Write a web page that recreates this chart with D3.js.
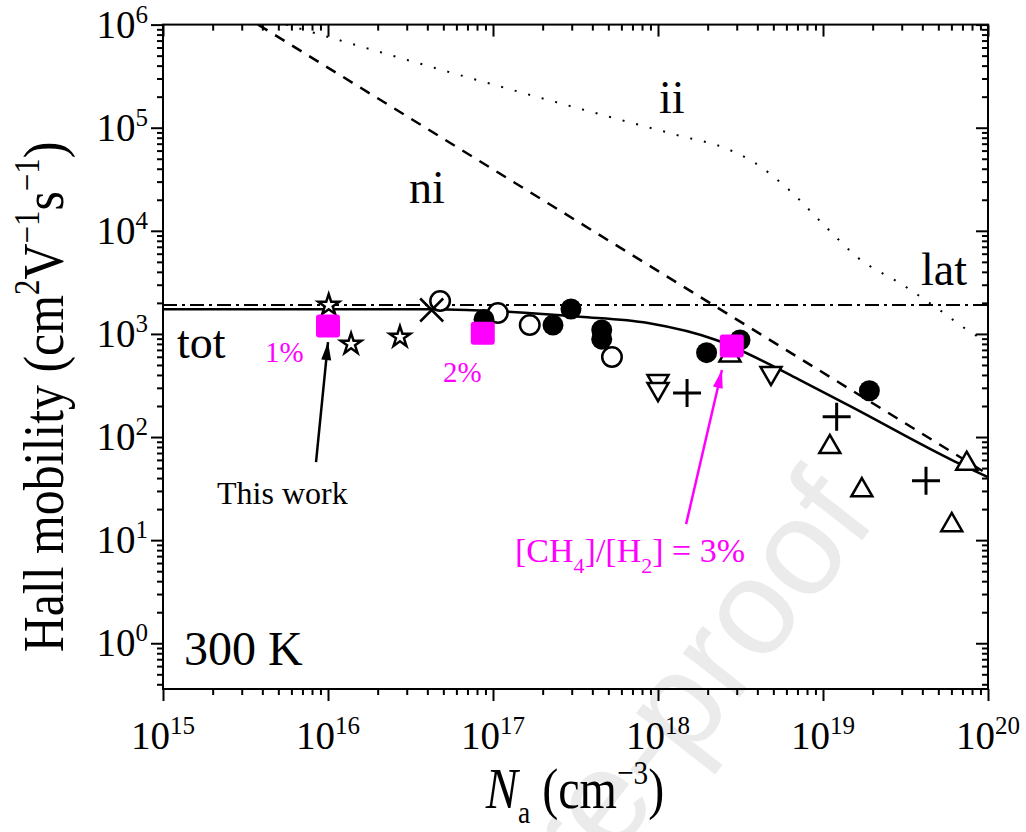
<!DOCTYPE html>
<html lang="en">
<head>
<meta charset="utf-8">
<style>

body {
  margin: 0;
  background: #fff;
}

svg {
  display: block;
  font-family: "Liberation Serif", "Times New Roman", serif;
}

.axis line {
  stroke: #000;
  stroke-width: 2;
}

.open {
  fill: #fff;
  stroke: #000;
  stroke-width: 2.5;
}

</style>
</head>
<body>
<script src="https://d3js.org/d3.v7.min.js"></script>
<script>

var width = 1026,
    height = 832;

// axis ranges and major ticks
var xDomain = [1e15, 1e20];
var yDomain = [0.36, 1e6];
var xExponents = [15, 16, 17, 18, 19, 20];
var yExponents = [0, 1, 2, 3, 4, 5, 6];

// model curves, [Na, mobility]
var latCurve = [[1e15, 1905], [1e20, 1905]];
var niCurve = [[3.77e15, 1e6], [1e20, 43.5]];
var iiCurve = [[5.56e15, 1e6], [1.22e16, 6.93e5], [5.41e16, 3.47e5], [5.12e17, 1.27e5],
               [1.30e18, 8.49e4], [2.73e18, 6.07e4], [3.87e18, 4.55e4], [6.05e18, 2.60e4],
               [1.06e19, 1.06e4], [1.61e19, 5570], [3.05e19, 2980], [4.91e19, 1780],
               [8.0e19, 1020], [1e20, 836]];
var totCurve = [[1e15, 1738], [4.15e16, 1738], [3.37e17, 1469], [8.69e17, 1276],
                [2.25e18, 873], [4.58e18, 522], [7.26e18, 357], [1.50e19, 195],
                [6.22e19, 58.5], [1e20, 40.9]];

// literature data
var stars = [[1.01e16, 1905], [1.38e16, 798], [2.73e16, 933]];
var crosses = [[4.25e16, 1706]];
var openCircles = [[4.78e16, 2084], [1.07e17, 1596], [1.67e17, 1219], [5.26e17, 597]];
var filledCircles = [[8.82e16, 1380], [2.31e17, 1219], [2.97e17, 1746], [4.56e17, 1092],
                     [4.56e17, 890], [1.97e18, 658], [3.14e18, 873], [1.91e19, 281]];
var downTriangles = [[1.0e18, 349], [1.0e18, 292], [4.84e18, 418]];
var upTriangles = [[2.73e18, 620], [1.10e19, 80], [1.72e19, 30.5], [7.43e19, 55], [6.03e19, 14]];
var pluses = [[1.50e18, 267], [1.21e19, 157], [4.21e19, 37.7]];

// this work
var thisWork = [[1.0e16, 1193], [8.67e16, 1013], [2.80e18, 763]];
var thisWorkArrow = [[8.46e15, 57.1], [1.0e16, 834]];
var methaneArrow = [[1.48e18, 14.3], [2.44e18, 447]];

var x = d3.scaleLog()
    .domain(xDomain)
    .range([163, 988]);

var y = d3.scaleLog()
    .domain(yDomain)
    .range([689, 24.6]);

var svg = d3.select("body").append("svg")
    .attr("width", width)
    .attr("height", height);

var defs = svg.append("defs");

defs.append("clipPath")
    .attr("id", "plotclip")
  .append("rect")
    .attr("x", 163)
    .attr("y", 24.6)
    .attr("width", 825)
    .attr("height", 689 - 24.6);

[["head-black", "#000"], ["head-magenta", "#ff00ff"]].forEach(function(m) {
    defs.append("marker")
        .attr("id", m[0])
        .attr("markerUnits", "userSpaceOnUse")
        .attr("markerWidth", 24)
        .attr("markerHeight", 16)
        .attr("viewBox", "-20 -8 24 16")
        .attr("refX", 0)
        .attr("refY", 0)
        .attr("orient", "auto")
      .append("path")
        .attr("d", "M0,0L-18,-5L-18,5Z")
        .attr("fill", m[1]);
});

// watermark
svg.append("text")
    .attr("transform", "translate(878,520) rotate(-52)")
    .attr("text-anchor", "end")
    .style("font-family", "'Liberation Sans', Arial, sans-serif")
    .style("font-size", "136px")
    .attr("fill", "#ebebeb")
    .text("Journal Pre-proof");

// ticks
function isMajor(v) {
    var e = Math.log10(v);
    return Math.abs(e - Math.round(e)) < 1e-6;
}

var xMajor = xExponents.map(function(e) { return Math.pow(10, e); });
var yMajor = yExponents.map(function(e) { return Math.pow(10, e); });
var xMinor = x.ticks().filter(function(v) { return !isMajor(v); });
var yMinor = y.ticks().filter(function(v) { return !isMajor(v); });

function addAxis(gen, scale, translate, values, size) {
    svg.append("g")
        .attr("class", "axis")
        .attr("transform", translate)
        .call(gen(scale).tickValues(values).tickSize(size).tickSizeOuter(0).tickFormat(""))
        .call(function(g) { g.select(".domain").remove(); });
}

addAxis(d3.axisBottom, x, "translate(0,689)", xMajor, 12);
addAxis(d3.axisBottom, x, "translate(0,689)", xMinor, 6);
addAxis(d3.axisTop, x, "translate(0,24.6)", xMajor, -12);
addAxis(d3.axisTop, x, "translate(0,24.6)", xMinor, -6);
addAxis(d3.axisLeft, y, "translate(163,0)", yMajor, 12);
addAxis(d3.axisLeft, y, "translate(163,0)", yMinor, 6);
addAxis(d3.axisRight, y, "translate(988,0)", yMajor, -12);
addAxis(d3.axisRight, y, "translate(988,0)", yMinor, -6);

svg.append("rect")
    .attr("x", 163)
    .attr("y", 24.6)
    .attr("width", 825)
    .attr("height", 689 - 24.6)
    .attr("fill", "none")
    .attr("stroke", "#000")
    .attr("stroke-width", 2);

// tick labels
function powerLabel(sel) {
    sel.text("10")
      .append("tspan")
        .attr("dy", -15)
        .style("font-size", "25px")
        .text(function(e) { return e; });
}

svg.append("g").selectAll("text")
    .data(xExponents)
    .enter().append("text")
    .attr("x", function(e) { return x(Math.pow(10, e)); })
    .attr("y", 749)
    .attr("text-anchor", "middle")
    .style("font-size", "39px")
    .call(powerLabel);

svg.append("g").selectAll("text")
    .data(yExponents)
    .enter().append("text")
    .attr("x", 148)
    .attr("y", function(e) { return y(Math.pow(10, e)) + 13; })
    .attr("text-anchor", "end")
    .style("font-size", "39px")
    .call(powerLabel);

// axis titles
var xTitle = svg.append("text")
    .attr("transform", "translate(575,808) scale(0.86,1)")
    .attr("text-anchor", "middle")
    .style("font-size", "56px");
xTitle.append("tspan").style("font-style", "italic").text("N");
xTitle.append("tspan").attr("dy", 15).style("font-size", "32px").text("a");
xTitle.append("tspan").attr("dy", -15).text(" (cm");
xTitle.append("tspan").attr("dy", -24).style("font-size", "34px").text("\u22123");
xTitle.append("tspan").attr("dy", 24).text(")");

var yTitle = svg.append("text")
    .attr("transform", "translate(63,397) rotate(-90) scale(0.86,1)")
    .attr("text-anchor", "middle")
    .style("font-size", "58px");
yTitle.append("tspan").text("Hall mobility (cm");
yTitle.append("tspan").attr("dy", -24).style("font-size", "36px").text("2");
yTitle.append("tspan").attr("dy", 24).text("V");
yTitle.append("tspan").attr("dy", -24).style("font-size", "36px").text("\u22121");
yTitle.append("tspan").attr("dy", 24).text("s");
yTitle.append("tspan").attr("dy", -24).style("font-size", "36px").text("\u22121");
yTitle.append("tspan").attr("dy", 24).text(")");

// curves
var line = d3.line()
    .x(function(d) { return x(d[0]); })
    .y(function(d) { return y(d[1]); })
    .curve(d3.curveMonotoneX);

var plot = svg.append("g").attr("clip-path", "url(#plotclip)");

plot.append("path").datum(iiCurve)
    .attr("d", line).attr("fill", "none").attr("stroke", "#000")
    .attr("stroke-width", 2).attr("stroke-dasharray", "2,12");

plot.append("path").datum(niCurve)
    .attr("d", line).attr("fill", "none").attr("stroke", "#000")
    .attr("stroke-width", 2.5).attr("stroke-dasharray", "11,9");

plot.append("path").datum(latCurve)
    .attr("d", line).attr("fill", "none").attr("stroke", "#000")
    .attr("stroke-width", 2).attr("stroke-dasharray", "14,5,3,5");

plot.append("path").datum(totCurve)
    .attr("d", line).attr("fill", "none").attr("stroke", "#000")
    .attr("stroke-width", 2.5);

// markers
function pos(d) { return "translate(" + x(d[0]) + "," + y(d[1]) + ")"; }

function drawSymbols(data, type, size, cls, rotate) {
    plot.append("g").selectAll("path")
        .data(data)
        .enter().append("path")
        .attr("transform", function(d) { return pos(d) + (rotate ? " rotate(" + rotate + ")" : ""); })
        .attr("d", d3.symbol().type(type).size(size))
        .attr("class", cls);
}

drawSymbols(stars, d3.symbolStar, 136, "open");
drawSymbols(openCircles, d3.symbolCircle, 299, "open");
drawSymbols(filledCircles, d3.symbolCircle, 346, "filled");
drawSymbols(downTriangles, d3.symbolTriangle, 191, "open", 180);
drawSymbols(upTriangles, d3.symbolTriangle, 191, "open");

plot.append("g").selectAll("path")
    .data(crosses)
    .enter().append("path")
    .attr("transform", pos)
    .attr("d", d3.symbol().type(d3.symbolTimes).size(347))
    .attr("fill", "none").attr("stroke", "#000").attr("stroke-width", 2.5);

plot.append("g").selectAll("path")
    .data(pluses)
    .enter().append("path")
    .attr("transform", pos)
    .attr("d", d3.symbol().type(d3.symbolPlus).size(257))
    .attr("fill", "none").attr("stroke", "#000").attr("stroke-width", 3);

plot.append("g").selectAll("rect")
    .data(thisWork)
    .enter().append("rect")
    .attr("x", function(d) { return x(d[0]) - 12; })
    .attr("y", function(d) { return y(d[1]) - 11.5; })
    .attr("width", 24)
    .attr("height", 23)
    .attr("rx", 3)
    .attr("fill", "#ff00ff");

// arrows
var straight = d3.line()
    .x(function(d) { return x(d[0]); })
    .y(function(d) { return y(d[1]); });

svg.append("path").datum(thisWorkArrow)
    .attr("d", straight)
    .attr("stroke", "#000").attr("stroke-width", 2.5)
    .attr("marker-end", "url(#head-black)");

svg.append("path").datum(methaneArrow)
    .attr("d", straight)
    .attr("stroke", "#ff00ff").attr("stroke-width", 2.5)
    .attr("marker-end", "url(#head-magenta)");

// annotations
function label(px, py, size, txt, color) {
    return svg.append("text")
        .attr("x", px)
        .attr("y", py)
        .style("font-size", size + "px")
        .attr("fill", color || "#000")
        .text(txt);
}

label(659, 113, 46, "ii");
label(409, 203, 46, "ni");
label(921, 285, 46, "lat");
label(177, 358, 46, "tot");
label(184, 665, 48, "300 K");
label(265, 362, 29, "1%", "#ff00ff");
label(443, 382, 29, "2%", "#ff00ff");
label(217, 504, 32, "This work");

var ch = svg.append("text")
    .attr("x", 515)
    .attr("y", 562)
    .style("font-size", "34px")
    .attr("fill", "#ff00ff");
ch.append("tspan").text("[CH");
ch.append("tspan").attr("dy", 11).style("font-size", "22px").text("4");
ch.append("tspan").attr("dy", -11).text("]/[H");
ch.append("tspan").attr("dy", 11).style("font-size", "22px").text("2");
ch.append("tspan").attr("dy", -11).text("] = 3%");

</script>
</body>
</html>
